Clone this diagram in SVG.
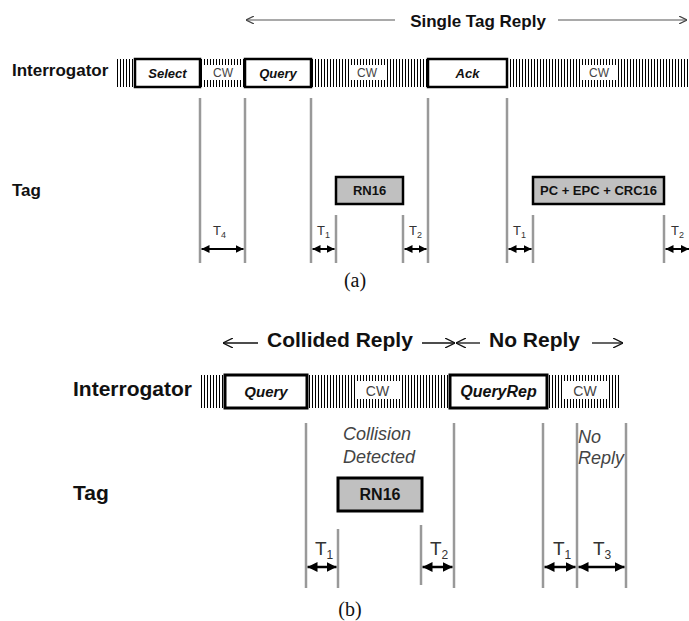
<svg xmlns="http://www.w3.org/2000/svg" width="689" height="621" viewBox="0 0 689 621">
<defs>
<pattern id="hatch" patternUnits="userSpaceOnUse" width="3" height="10">
<rect x="0" y="0" width="1" height="10" fill="#000"/>
</pattern>
<marker id="ah" viewBox="0 0 8 8" refX="8" refY="4" markerWidth="8" markerHeight="8" markerUnits="userSpaceOnUse" orient="auto-start-reverse">
<path d="M0,0 L8,4 L0,8 z" fill="#000"/>
</marker>
<marker id="ahb" viewBox="0 0 10 10" refX="10" refY="5" markerWidth="10" markerHeight="10" markerUnits="userSpaceOnUse" orient="auto-start-reverse">
<path d="M0,0 L10,5 L0,10 z" fill="#000"/>
</marker>
<marker id="open" viewBox="0 0 8 8" refX="8" refY="4" markerWidth="8" markerHeight="8" markerUnits="userSpaceOnUse" orient="auto-start-reverse">
<path d="M0,0 L8,4 L0,8" fill="none" stroke="#444" stroke-width="1.2"/>
</marker>
<marker id="openb" viewBox="0 0 10 10" refX="10" refY="5" markerWidth="10" markerHeight="10" markerUnits="userSpaceOnUse" orient="auto-start-reverse">
<path d="M0,0 L10,5 L0,10" fill="none" stroke="#111" stroke-width="1.3"/>
</marker>
</defs>
<style>
.lbl{font-family:"Liberation Sans",Arial,sans-serif;font-weight:bold;fill:#111}
.cmd{font-family:"Liberation Sans",Arial,sans-serif;font-weight:bold;font-style:italic;fill:#111;text-anchor:middle}
.cw{font-family:"Liberation Sans",Arial,sans-serif;fill:#444;text-anchor:middle}
.box{fill:#fff;stroke:#000}
.reply{fill:#c0c0c0;stroke:#000}
.rtxt{font-family:"Liberation Sans",Arial,sans-serif;font-weight:bold;fill:#111;text-anchor:middle}
.vl{stroke:#999;stroke-width:2.5;fill:none}
.tl{font-family:"Liberation Sans",Arial,sans-serif;fill:#333}
.dim{stroke:#000;stroke-width:2;marker-start:url(#ah);marker-end:url(#ah)}
.dimb{stroke:#000;stroke-width:2.5;marker-start:url(#ahb);marker-end:url(#ahb)}
.note{font-family:"Liberation Sans",Arial,sans-serif;font-style:italic;fill:#444}
.cap{font-family:"Liberation Serif","Times New Roman",serif;fill:#111;text-anchor:middle}
</style>
<rect width="689" height="621" fill="#fff"/>

<!-- Part (a) -->
<g id="a-title">
<line x1="246" y1="20" x2="395" y2="20" stroke="#555" stroke-width="1.2" marker-start="url(#open)"/>
<line x1="558" y1="20" x2="687" y2="20" stroke="#555" stroke-width="1.2" marker-end="url(#open)"/>
<text x="478" y="27" class="lbl" font-size="17" text-anchor="middle">Single Tag Reply</text>
</g>
<g id="a-interrogator-label"><text x="12" y="76" class="lbl" font-size="17">Interrogator</text></g>
<g id="a-tag-label"><text x="12" y="196" class="lbl" font-size="17">Tag</text></g>
<g id="a-cw-bar">
<rect x="115" y="59" width="574" height="28" fill="url(#hatch)"/>
<rect x="203" y="65" width="40" height="15" fill="#fff"/>
<text x="223" y="77" class="cw" font-size="12">CW</text>
<rect x="349" y="65" width="37" height="15" fill="#fff"/>
<text x="367" y="77" class="cw" font-size="12">CW</text>
<rect x="580" y="65" width="38" height="15" fill="#fff"/>
<text x="599" y="77" class="cw" font-size="12">CW</text>
</g>
<g id="a-select"><rect x="135" y="59" width="65" height="28" class="box" stroke-width="2.5"/><text x="167.5" y="78" class="cmd" font-size="13">Select</text></g>
<g id="a-query"><rect x="245" y="59" width="66" height="28" class="box" stroke-width="2.5"/><text x="278" y="78" class="cmd" font-size="13">Query</text></g>
<g id="a-ack"><rect x="428" y="59" width="79" height="28" class="box" stroke-width="2.5"/><text x="467.5" y="78" class="cmd" font-size="13">Ack</text></g>
<g id="a-rn16"><rect x="336" y="177" width="67" height="27" class="reply" stroke-width="2.5"/><text x="369.5" y="195" class="rtxt" font-size="13">RN16</text></g>
<g id="a-epc"><rect x="533" y="177" width="131" height="27" class="reply" stroke-width="2.5"/><text x="598.5" y="195" class="rtxt" font-size="13">PC + EPC + CRC16</text></g>

<g id="a-connectors">
<line x1="200" y1="98" x2="200" y2="263" class="vl"/>
<line x1="245" y1="98" x2="245" y2="263" class="vl"/>
<line x1="311" y1="98" x2="311" y2="263" class="vl"/>
<line x1="428" y1="98" x2="428" y2="263" class="vl"/>
<line x1="507" y1="98" x2="507" y2="263" class="vl"/>
<line x1="336" y1="215" x2="336" y2="263" class="vl"/>
<line x1="403" y1="215" x2="403" y2="263" class="vl"/>
<line x1="533" y1="215" x2="533" y2="263" class="vl"/>
<line x1="664" y1="215" x2="664" y2="263" class="vl"/>
<line x1="201.5" y1="249" x2="243.5" y2="249" class="dim"/>
<line x1="312.5" y1="249" x2="334.5" y2="249" class="dim"/>
<line x1="404.5" y1="249" x2="426.5" y2="249" class="dim"/>
<line x1="508.5" y1="249" x2="531.5" y2="249" class="dim"/>
<line x1="665.5" y1="249" x2="689" y2="249" class="dim"/>
</g>
<g id="a-timings">
<text x="213" y="235" class="tl" font-size="13">T<tspan font-size="9" dy="3">4</tspan></text>
<text x="317" y="235" class="tl" font-size="13">T<tspan font-size="9" dy="3">1</tspan></text>
<text x="409" y="235" class="tl" font-size="13">T<tspan font-size="9" dy="3">2</tspan></text>
<text x="513" y="235" class="tl" font-size="13">T<tspan font-size="9" dy="3">1</tspan></text>
<text x="671" y="235" class="tl" font-size="13">T<tspan font-size="9" dy="3">2</tspan></text>
</g>
<g id="a-caption"><text x="355" y="287" class="cap" font-size="20">(a)</text></g>

<!-- Part (b) -->
<g id="b-title">
<line x1="223" y1="343" x2="258" y2="343" stroke="#111" stroke-width="1.3" marker-start="url(#openb)"/>
<text x="267" y="347" class="lbl" font-size="21">Collided Reply</text>
<line x1="422" y1="343" x2="455" y2="343" stroke="#111" stroke-width="1.3" marker-end="url(#openb)"/>
<line x1="456" y1="343" x2="480" y2="343" stroke="#111" stroke-width="1.3" marker-start="url(#openb)"/>
<text x="489" y="347" class="lbl" font-size="21">No Reply</text>
<line x1="592" y1="343" x2="623" y2="343" stroke="#111" stroke-width="1.3" marker-end="url(#openb)"/>
</g>
<g id="b-interrogator-label"><text x="73" y="396" class="lbl" font-size="21">Interrogator</text></g>
<g id="b-tag-label"><text x="73" y="500" class="lbl" font-size="21">Tag</text></g>
<g id="b-cw-bar">
<rect x="201" y="375" width="419" height="33" fill="url(#hatch)"/>
<rect x="355" y="381" width="45" height="18" fill="#fff"/>
<text x="377.5" y="396" class="cw" font-size="14">CW</text>
<rect x="563" y="381" width="44" height="18" fill="#fff"/>
<text x="585" y="396" class="cw" font-size="14">CW</text>
</g>
<g id="b-query"><rect x="225" y="375" width="82" height="33" class="box" stroke-width="3"/><text x="266" y="397" class="cmd" font-size="15">Query</text></g>
<g id="b-queryrep"><rect x="450" y="375" width="97" height="33" class="box" stroke-width="3"/><text x="498.5" y="397" class="cmd" font-size="16">QueryRep</text></g>
<g id="b-rn16"><rect x="338" y="478" width="84" height="33" class="reply" stroke-width="3"/><text x="380" y="500" class="rtxt" font-size="16">RN16</text></g>
<g id="b-collision-note"><text x="343" y="440" class="note" font-size="18">Collision</text><text x="343" y="463" class="note" font-size="18">Detected</text></g>
<g id="b-noreply-note"><text x="578" y="443" class="note" font-size="18">No</text><text x="578" y="464" class="note" font-size="18">Reply</text></g>

<g id="b-connectors">
<line x1="306" y1="423" x2="306" y2="588" class="vl"/>
<line x1="454" y1="423" x2="454" y2="588" class="vl"/>
<line x1="543" y1="423" x2="543" y2="588" class="vl"/>
<line x1="577" y1="423" x2="577" y2="588" class="vl"/>
<line x1="626" y1="423" x2="626" y2="588" class="vl"/>
<line x1="338" y1="529" x2="338" y2="588" class="vl"/>
<line x1="421" y1="525" x2="421" y2="585" class="vl"/>
<line x1="307.5" y1="567" x2="336.5" y2="567" class="dimb"/>
<line x1="422.5" y1="567" x2="452.5" y2="567" class="dimb"/>
<line x1="544.5" y1="567" x2="575.5" y2="567" class="dimb"/>
<line x1="578.5" y1="567" x2="624.5" y2="567" class="dimb"/>
</g>
<g id="b-timings">
<text x="315" y="555" class="tl" font-size="19">T<tspan font-size="12" dy="4">1</tspan></text>
<text x="430" y="555" class="tl" font-size="19">T<tspan font-size="12" dy="4">2</tspan></text>
<text x="553" y="555" class="tl" font-size="19">T<tspan font-size="12" dy="4">1</tspan></text>
<text x="593" y="555" class="tl" font-size="19">T<tspan font-size="12" dy="4">3</tspan></text>
</g>
<g id="b-caption"><text x="350" y="616" class="cap" font-size="20">(b)</text></g>
</svg>
